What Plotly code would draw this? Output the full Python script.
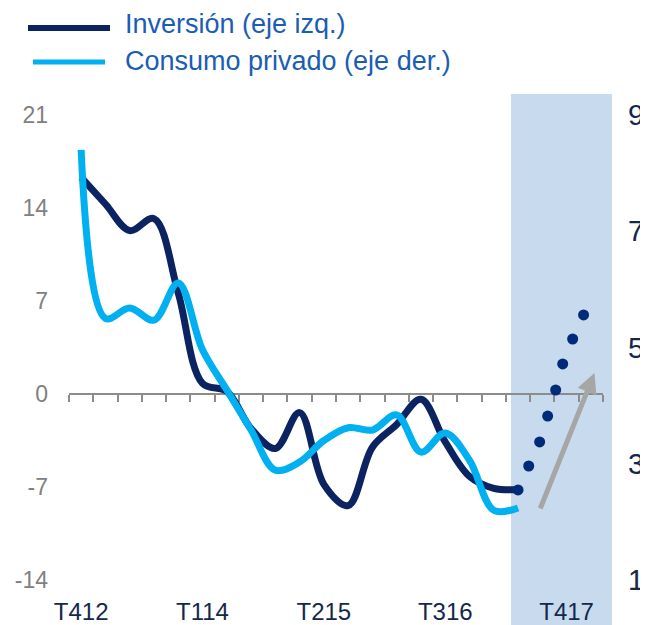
import plotly.graph_objects as go

quarters = ["T412", "T113", "T213", "T313", "T413",
            "T114", "T214", "T314", "T414",
            "T115", "T215", "T315", "T415",
            "T116", "T216", "T316", "T416",
            "T117", "T217", "T317", "T417", "T118"]

inversion = [16.3, 14.3, 12.3, 13.2, 7.6, 0.8, 0.2, -2.6, -4.1, -1.4,
             -6.8, -8.4, -4.0, -2.3, -0.4, -3.6, -6.2, -7.1, -7.2]
consumo = [8.4, 5.5, 5.68, 5.47, 6.11, 4.96, 4.27, 3.58, 2.89, 3.03,
           3.4, 3.62, 3.58, 3.84, 3.2, 3.53, 3.06, 2.2, 2.24]

# forecast of investment (dotted), positions in quarter units
forecast_x = [18.0, 18.44, 18.89, 19.22, 19.55, 19.84, 20.25, 20.70]
forecast_y = [-7.22, -5.42, -3.61, -1.66, 0.30, 2.26, 4.14, 5.95]

left_ticks = [-14, -7, 0, 7, 14, 21]
right_ticks = [1, 3, 5, 7, 9]
label_step = 5

DARK = "#0B2461"
LIGHT = "#00B0F0"
DOTS = "#002B78"
FONT = "Arial, Liberation Sans, sans-serif"

n = len(quarters)

fig = go.Figure()
fig.add_trace(go.Scatter(x=list(range(len(inversion))), y=inversion, mode="lines",
                         line=dict(color=DARK, width=7, shape="spline", smoothing=1),
                         yaxis="y", xaxis="x", showlegend=False))
fig.add_trace(go.Scatter(x=forecast_x, y=forecast_y, mode="markers",
                         marker=dict(color=DOTS, size=11, line=dict(width=0)),
                         yaxis="y", xaxis="x", showlegend=False))
fig.add_trace(go.Scatter(x=list(range(len(consumo))), y=consumo, mode="lines",
                         line=dict(color=LIGHT, width=7, shape="spline", smoothing=1),
                         yaxis="y2", xaxis="x2", showlegend=False))

# the page body adds an 8px offset, so the figure is 8px smaller
fig.update_layout(
    width=640, height=617,
    margin=dict(l=61, r=45, t=107, b=45, autoexpand=False),
    paper_bgcolor="white", plot_bgcolor="rgba(0,0,0,0)",
    font=dict(family=FONT),
    # axis drawn at zero with tick marks between quarters
    xaxis=dict(range=[-0.5, n - 0.5], anchor="free", position=0.4,
               showline=True, linecolor="#8C8C8C", linewidth=2,
               ticks="outside", ticklen=7, tickwidth=1.5, tickcolor="#8C8C8C",
               tickvals=[i - 0.5 for i in range(n + 1)], showticklabels=False,
               showgrid=False, zeroline=False, automargin=False,
               layer="below traces"),
    # quarter labels at the bottom
    xaxis2=dict(range=[-0.5, n - 0.5], overlaying="x", anchor="y", side="bottom",
                tickvals=list(range(0, n, label_step)),
                ticktext=quarters[::label_step],
                ticks="", showline=False, showgrid=False, zeroline=False,
                ticklabelstandoff=15, automargin=False,
                tickfont=dict(size=24, color="#14284B", family=FONT)),
    yaxis=dict(range=[-14, 21], tickvals=left_ticks,
               ticktext=[str(v) for v in left_ticks],
               showgrid=False, zeroline=False,
               showline=False, ticks="", ticklabelstandoff=20, automargin=False,
               tickfont=dict(size=23, color="#808080", family=FONT)),
    yaxis2=dict(range=[1, 9], tickvals=right_ticks,
                ticktext=[str(v) for v in right_ticks],
                overlaying="y", side="right", anchor="x2",
                showgrid=False, zeroline=False, showline=False, ticks="",
                ticklabelstandoff=24, automargin=False,
                tickfont=dict(size=29, color="#14284B", family=FONT)),
)

# forecast shaded band
fig.add_shape(type="rect", xref="paper", yref="paper",
              x0=0.8277, x1=1.0169, y0=-0.0968, y1=1.0452,
              fillcolor="#C8DAEE", line=dict(width=0), layer="below")

# trend arrow
fig.add_annotation(x=21.15, y=1.58, ax=18.89, ay=-8.73, xref="x", yref="y",
                   axref="x", ayref="y", text="", showarrow=True,
                   arrowhead=2, arrowsize=0.8, arrowwidth=5, arrowcolor="#A6A6A6")

# legend (manual)
def ypx(p):
    return (580 - p) / 465

fig.add_shape(type="line", xref="paper", yref="paper",
              x0=(28 - 69) / 534, x1=(110 - 69) / 534, y0=ypx(28), y1=ypx(28),
              line=dict(color=DARK, width=6))
fig.add_shape(type="line", xref="paper", yref="paper",
              x0=(33 - 69) / 534, x1=(105 - 69) / 534, y0=ypx(62), y1=ypx(62),
              line=dict(color=LIGHT, width=5))
fig.add_annotation(x=(123 - 69) / 534, y=ypx(24), xref="paper", yref="paper",
                   text="Inversión (eje izq.)", showarrow=False,
                   xanchor="left", yanchor="middle",
                   font=dict(size=27, color="#1A5DB4", family=FONT))
fig.add_annotation(x=(123 - 69) / 534, y=ypx(61), xref="paper", yref="paper",
                   text="Consumo privado (eje der.)", showarrow=False,
                   xanchor="left", yanchor="middle",
                   font=dict(size=27, color="#1A5DB4", family=FONT))

fig.write_html("out.html")
